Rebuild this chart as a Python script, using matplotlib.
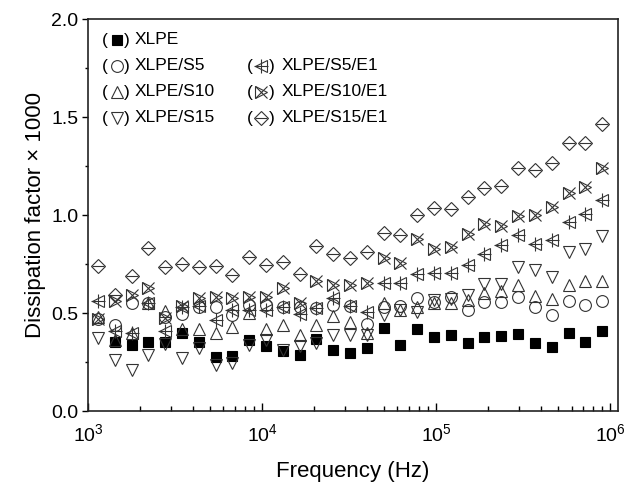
import numpy as np
import matplotlib
matplotlib.use("Agg")
import matplotlib.pyplot as plt
from matplotlib.ticker import FixedLocator, LogLocator, NullFormatter, FuncFormatter, MultipleLocator

plt.rcParams['font.family'] = ['Liberation Sans', 'DejaVu Sans']
plt.rcParams['mathtext.fontset'] = 'custom'
plt.rcParams['mathtext.rm'] = 'Liberation Sans'
plt.rcParams['mathtext.it'] = 'Liberation Sans'

# ---- data ----
freq = [1141, 1426, 1781, 2224, 2778, 3470, 4333, 5412, 6760, 8443,
        10544, 13170, 16450, 20540, 25660, 32040, 40020, 49980, 62430, 77970,
        97390, 121600, 151900, 189700, 236900, 296000, 369600, 461600, 576700, 720200,
        899500]

xlpe = [np.nan, 0.35, 0.337, 0.35, 0.35, 0.40, 0.35, 0.275, 0.28, 0.36,
        0.33, 0.306, 0.286, 0.367, 0.311, 0.294, 0.32, 0.425, 0.337, 0.418,
        0.378, 0.388, 0.345, 0.376, 0.383, 0.393, 0.345, 0.328, 0.40, 0.35,
        0.41]

xlpe_s5 = [0.47, 0.44, 0.55, 0.55, 0.48, 0.495, 0.53, 0.53, 0.49, 0.54,
           0.54, 0.53, 0.53, 0.525, 0.54, 0.535, 0.444, 0.53, 0.535, 0.578,
           0.558, 0.583, 0.515, 0.558, 0.558, 0.583, 0.529, 0.49, 0.563, 0.541,
           0.563]

xlpe_s10 = [0.48, 0.36, 0.40, 0.55, 0.51, 0.42, 0.42, 0.40, 0.43, 0.50,
            0.42, 0.44, 0.39, 0.44, 0.486, 0.456, 0.40, 0.553, 0.515, 0.532,
            0.55, 0.55, 0.565, 0.60, 0.61, 0.643, 0.587, 0.57, 0.643, 0.663,
            0.665]

xlpe_s15 = [0.374, 0.26, 0.21, 0.285, 0.34, 0.27, 0.32, 0.235, 0.245, 0.335,
            0.36, 0.31, 0.33, 0.346, 0.388, 0.388, 0.39, 0.49, 0.515, 0.507,
            0.565, 0.57, 0.59, 0.648, 0.648, 0.736, 0.719, 0.685, 0.813, 0.825,
            0.895]

xlpe_s5_e1 = [0.563, 0.41, 0.40, 0.55, 0.41, 0.53, 0.535, 0.464, 0.515, 0.515,
              0.515, 0.53, 0.495, 0.525, 0.578, 0.535, 0.505, 0.653, 0.655, 0.70,
              0.703, 0.706, 0.745, 0.801, 0.847, 0.898, 0.852, 0.872, 0.966, 1.005,
              1.077]

xlpe_s10_e1 = [0.47, 0.56, 0.59, 0.63, 0.475, 0.535, 0.575, 0.58, 0.575, 0.58,
               0.583, 0.63, 0.55, 0.665, 0.643, 0.643, 0.655, 0.78, 0.757, 0.877,
               0.826, 0.838, 0.903, 0.952, 0.944, 0.995, 1.0, 1.039, 1.11, 1.141,
               1.238]

xlpe_s15_e1 = [0.74, 0.59, 0.69, 0.83, 0.736, 0.75, 0.735, 0.74, 0.694, 0.785,
               0.745, 0.76, 0.70, 0.84, 0.80, 0.78, 0.81, 0.908, 0.90, 1.0,
               1.035, 1.03, 1.093, 1.136, 1.148, 1.238, 1.23, 1.264, 1.369, 1.369,
               1.463]

labels = ['XLPE', 'XLPE/S5', 'XLPE/S10', 'XLPE/S15',
          'XLPE/S5/E1', 'XLPE/S10/E1', 'XLPE/S15/E1']

# ---- styles: (main marker, filled, overlay marker, overlay size) ----
ec = '#333333'
styles = {
    'XLPE': ('s', True, None, 0),
    'XLPE/S5': ('o', False, None, 0),
    'XLPE/S10': ('^', False, None, 0),
    'XLPE/S15': ('v', False, None, 0),
    'XLPE/S5/E1': ('<', False, '+', 10),
    'XLPE/S10/E1': ('>', False, 'x', 8.5),
    'XLPE/S15/E1': ('D', False, '_', 8),
}
msize = {'s': 7.5, 'o': 8.5, '^': 9, 'v': 9, '<': 9, '>': 9, 'D': 7}

series = [xlpe, xlpe_s5, xlpe_s10, xlpe_s15, xlpe_s5_e1, xlpe_s10_e1, xlpe_s15_e1]

fig = plt.figure(figsize=(6.27, 4.84), dpi=100)
ax = fig.add_axes([88/627, 1-411/484, (618-88)/627, (411-19)/484])


def draw_marker(x, y, lab, **kw):
    m, filled, ov, ovs = styles[lab]
    ax.plot(x, y, linestyle='none', marker=m, markersize=msize[m],
            markerfacecolor=('black' if filled else 'none'),
            markeredgecolor=('black' if filled else ec), markeredgewidth=0.8, **kw)
    if ov:
        ax.plot(x, y, linestyle='none', marker=ov, markersize=ovs,
                markeredgecolor=ec, markeredgewidth=0.8, **kw)


for lab, vals in zip(labels, series):
    draw_marker(freq, vals, lab)

ax.set_xscale('log')
ax.set_xlim(1e3, 1.11e6)
ax.set_ylim(0, 2.0)

ax.xaxis.set_major_locator(FixedLocator([1e3, 1e4, 1e5, 1e6]))
ax.xaxis.set_minor_locator(LogLocator(base=10, subs=np.arange(2, 10), numticks=20))
ax.xaxis.set_minor_formatter(NullFormatter())
ax.xaxis.set_major_formatter(FuncFormatter(lambda v, p: r'$10^{%d}$' % int(round(np.log10(v)))))
ax.yaxis.set_major_locator(MultipleLocator(0.5))
ax.yaxis.set_minor_locator(MultipleLocator(0.25))
ax.yaxis.set_major_formatter(FuncFormatter(lambda v, p: '%.1f' % v))

ax.tick_params(axis='x', which='major', direction='in', length=6, width=1.0, labelsize=14, pad=9)
ax.tick_params(axis='x', which='minor', direction='in', length=3.5, width=1.0)
ax.tick_params(axis='y', which='major', direction='out', length=4, width=1.0, labelsize=14, pad=3)
ax.tick_params(axis='y', which='minor', direction='out', length=2.5, width=1.0)
ax.tick_params(top=False, right=False, which='both')
for s in ax.spines.values():
    s.set_linewidth(1.2)
    s.set_color('#222222')

ax.set_xlabel('Frequency (Hz)', fontsize=16, labelpad=11)
ax.set_ylabel('Dissipation factor \u00d7 1000', fontsize=16, labelpad=4)

# ---- manual legend "(marker) label" ----
def px2ax(xp, yp):
    return (xp - 88) / 530, (411 - yp) / 392

rows = [40, 66, 92, 118]
col1 = ['XLPE', 'XLPE/S5', 'XLPE/S10', 'XLPE/S15']
col2 = [None, 'XLPE/S5/E1', 'XLPE/S10/E1', 'XLPE/S15/E1']
for cx, entries in [((105, 117, 127, 135), col1), ((250, 261, 272, 282), col2)]:
    for yp, lab in zip(rows, entries):
        if lab is None:
            continue
        xa, ya = px2ax(cx[0], yp)
        ax.text(xa, ya, '(', transform=ax.transAxes, ha='center', va='center', fontsize=12.5)
        xm, ym = px2ax(cx[1], yp)
        draw_marker([xm], [ym], lab, transform=ax.transAxes, clip_on=False)
        xb, yb = px2ax(cx[2], yp)
        ax.text(xb, yb, ')', transform=ax.transAxes, ha='center', va='center', fontsize=12.5)
        xl, yl = px2ax(cx[3], yp)
        ax.text(xl, yl, lab, transform=ax.transAxes, ha='left', va='center', fontsize=12.5)

fig.savefig('out.png', dpi=100)
